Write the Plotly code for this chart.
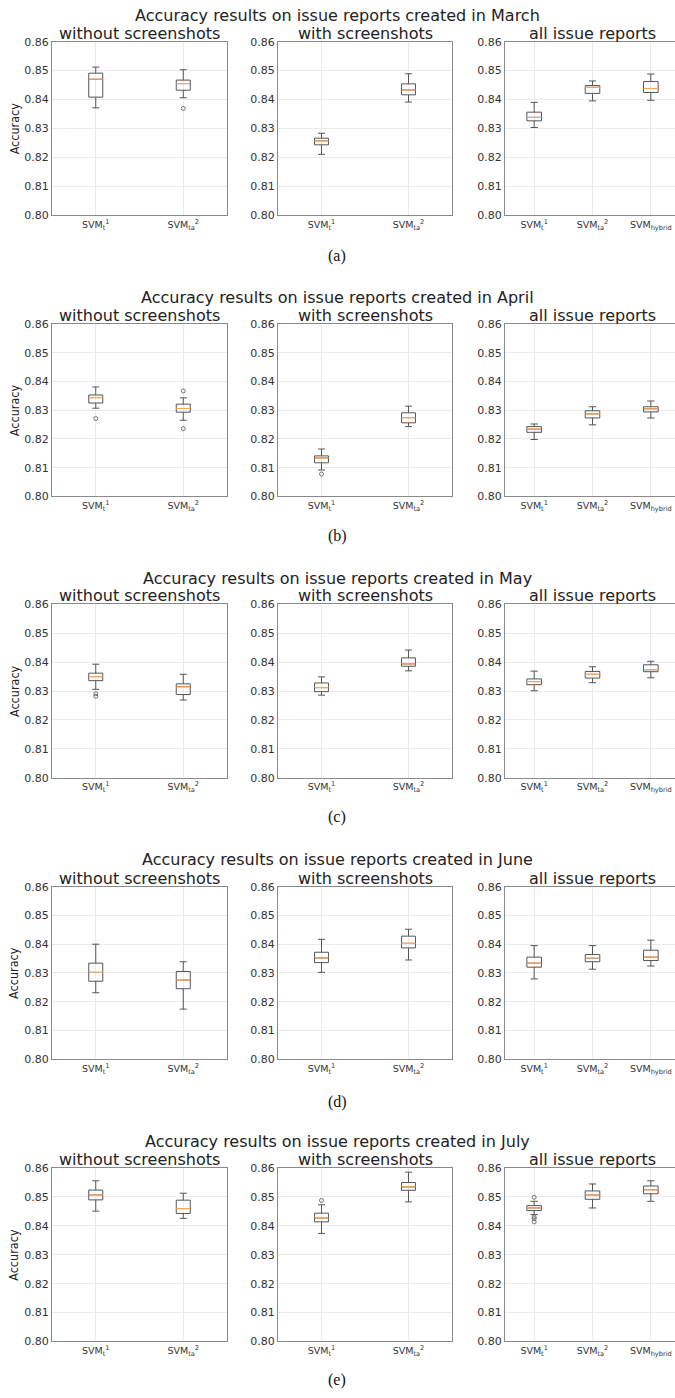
import plotly.graph_objects as go

# ---------------- data (lower whisker, q1, median, q3, upper whisker) ----------------
months = ["March", "April", "May", "June", "July"]
captions = ["(a)", "(b)", "(c)", "(d)", "(e)"]
panel_titles = ["without screenshots", "with screenshots", "all issue reports"]
labels_two = ["SVM<sub>t</sub><sup>1</sup>", "SVM<sub>ta</sub><sup>2</sup>"]
labels_three = ["SVM<sub>t</sub><sup>1</sup>", "SVM<sub>ta</sub><sup>2</sup>", "SVM<sub>hybrid</sub>"]
y_ticks = [0.80, 0.81, 0.82, 0.83, 0.84, 0.85, 0.86]

march_without = [(0.8371, 0.8408, 0.8470, 0.8491, 0.8512), (0.8406, 0.8432, 0.8455, 0.8467, 0.8503)]
march_with = [(0.8210, 0.8243, 0.8257, 0.8266, 0.8283), (0.8391, 0.8416, 0.8433, 0.8454, 0.8489)]
march_all = [(0.8303, 0.8326, 0.8338, 0.8356, 0.8390), (0.8395, 0.8421, 0.8442, 0.8448, 0.8464),
             (0.8397, 0.8424, 0.8438, 0.8462, 0.8488)]
march_out = [[[], [0.8369]], [[], []], [[], [], []]]

april_without = [(0.8307, 0.8325, 0.8344, 0.8353, 0.8381), (0.8265, 0.8293, 0.8306, 0.8321, 0.8343)]
april_with = [(0.8092, 0.8117, 0.8134, 0.8141, 0.8165), (0.8243, 0.8256, 0.8274, 0.8291, 0.8314)]
april_all = [(0.8198, 0.8223, 0.8234, 0.8243, 0.8252), (0.8249, 0.8273, 0.8287, 0.8298, 0.8312),
             (0.8273, 0.8294, 0.8305, 0.8312, 0.8332)]
april_out = [[[0.8271], [0.8367, 0.8236]], [[0.8078], []], [[], [], []]]

may_without = [(0.8306, 0.8336, 0.8350, 0.8362, 0.8393), (0.8269, 0.8288, 0.8315, 0.8325, 0.8358)]
may_with = [(0.8286, 0.8298, 0.8312, 0.8328, 0.8349), (0.8370, 0.8386, 0.8394, 0.8415, 0.8442)]
may_all = [(0.8301, 0.8322, 0.8333, 0.8342, 0.8369), (0.8329, 0.8345, 0.8358, 0.8368, 0.8384),
           (0.8346, 0.8367, 0.8374, 0.8391, 0.8403)]
may_out = [[[0.8291, 0.8282], []], [[], []], [[], [], []]]

june_without = [(0.8231, 0.8271, 0.8302, 0.8334, 0.8400), (0.8174, 0.8245, 0.8275, 0.8305, 0.8339)]
june_with = [(0.8302, 0.8336, 0.8352, 0.8372, 0.8417), (0.8345, 0.8387, 0.8403, 0.8428, 0.8452)]
june_all = [(0.8279, 0.8320, 0.8334, 0.8355, 0.8395), (0.8313, 0.8339, 0.8351, 0.8364, 0.8395),
            (0.8324, 0.8343, 0.8355, 0.8379, 0.8414)]
june_out = [[[], []], [[], []], [[], [], []]]

july_without = [(0.8451, 0.8490, 0.8507, 0.8524, 0.8556), (0.8426, 0.8443, 0.8460, 0.8489, 0.8513)]
july_with = [(0.8374, 0.8414, 0.8427, 0.8444, 0.8473), (0.8483, 0.8523, 0.8535, 0.8550, 0.8586)]
july_all = [(0.8439, 0.8453, 0.8462, 0.8470, 0.8485), (0.8462, 0.8492, 0.8507, 0.8521, 0.8545),
            (0.8485, 0.8511, 0.8525, 0.8538, 0.8556)]
july_out = [[[], []], [[0.8488], []], [[0.8499, 0.8431, 0.8425, 0.8414], [], []]]

rows_data = [
    (march_without, march_with, march_all, march_out),
    (april_without, april_with, april_all, april_out),
    (may_without, may_with, may_all, may_out),
    (june_without, june_with, june_all, june_out),
    (july_without, july_with, july_all, july_out),
]

# ---------------- layout geometry (pixels) ----------------
W, H = 675, 1398
col_px = [(52, 227), (278, 452), (505, 680)]
row_px = [(36, 211), (321, 495), (604, 779), (889, 1063), (1173, 1348)]
title_y = [10, 294, 578, 862, 1146]
caption_y = [252, 535, 819, 1106, 1387]
box_w = [0.16, 0.16, 0.25]

BOX_COL = "#555555"
MED_COL = "#ffa657"
SPINE = "#8a8a8a"
GRID = "#ebebeb"
FONT = "DejaVu Sans, Verdana, sans-serif"

fig = go.Figure()
layout = dict(width=W, height=H, autosize=False, margin=dict(l=0, r=0, t=0, b=0),
              paper_bgcolor="white", plot_bgcolor="white", showlegend=False)
annotations = []


def fx(px):
    return px / W


def fy(py):
    return 1 - py / H


for r, data in enumerate(rows_data):
    panels = data[:3]
    outs = data[3]
    y0, y1 = row_px[r]
    for c in range(3):
        k = r * 3 + c + 1
        sx = "" if k == 1 else str(k)
        stats = panels[c]
        n = len(stats)
        pos = list(range(1, n + 1))
        w = box_w[c]
        x0p, x1p = col_px[c]
        xr0 = 0.5
        xr1 = 0.5 + n * (min(x1p, W) - x0p) / (x1p - x0p)
        fig.add_trace(go.Box(
            x=pos,
            lowerfence=[s[0] for s in stats],
            q1=[s[1] for s in stats],
            median=[s[2] for s in stats],
            q3=[s[3] for s in stats],
            upperfence=[s[4] for s in stats],
            width=w, whiskerwidth=0.5,
            line=dict(color=BOX_COL, width=1),
            fillcolor="rgba(255,255,255,0)",
            boxpoints=False, hoverinfo="skip",
            xaxis="x" + sx, yaxis="y" + sx))
        mx, my = [], []
        for p, s in zip(pos, stats):
            mx += [p - w / 2, p + w / 2, None]
            my += [s[2], s[2], None]
        fig.add_trace(go.Scatter(x=mx, y=my, mode="lines",
                                 line=dict(color=MED_COL, width=1.2),
                                 hoverinfo="skip", xaxis="x" + sx, yaxis="y" + sx))
        ox, oy = [], []
        for p, o in zip(pos, outs[c]):
            ox += [p] * len(o)
            oy += list(o)
        if ox:
            fig.add_trace(go.Scatter(x=ox, y=oy, mode="markers",
                                     marker=dict(symbol="circle-open", size=4,
                                                 color=BOX_COL, line=dict(width=0.8)),
                                     hoverinfo="skip", xaxis="x" + sx, yaxis="y" + sx))
        layout["xaxis" + sx] = dict(
            domain=[fx(x0p), min(fx(x1p), 1.0)], anchor="y" + sx,
            range=[xr0, xr1], tickvals=pos,
            ticktext=labels_two if n == 2 else labels_three,
            tickfont=dict(family=FONT, size=9.5, color="#333"),
            showgrid=True, gridcolor=GRID, gridwidth=0.8,
            showline=True, linecolor=SPINE, linewidth=1.3, mirror=True,
            ticks="", zeroline=False, fixedrange=True)
        layout["yaxis" + sx] = dict(
            domain=[fy(y1), fy(y0)], anchor="x" + sx,
            range=[0.80, 0.86], tickvals=y_ticks, tickformat=".2f",
            tickfont=dict(family=FONT, size=11, color="#333"),
            showgrid=True, gridcolor=GRID, gridwidth=0.8,
            showline=True, linecolor=SPINE, linewidth=1.3, mirror=(c < 2),
            ticks="", zeroline=False, fixedrange=True)
        annotations.append(dict(
            text=panel_titles[c], xref="paper", yref="paper",
            x=fx((x0p + min(x1p, 679)) / 2), y=fy(y0 + 3), xanchor="center", yanchor="bottom",
            showarrow=False, font=dict(family=FONT, size=16, color="#222")))
    annotations.append(dict(
        text="Accuracy results on issue reports created in " + months[r],
        xref="paper", yref="paper", x=fx(337), y=fy(title_y[r]),
        xanchor="center", yanchor="middle", showarrow=False,
        font=dict(family=FONT, size=16, color="#222")))
    annotations.append(dict(
        text="Accuracy", xref="paper", yref="paper", x=fx(14), y=fy((y0 + y1) / 2),
        xanchor="center", yanchor="middle", textangle=-90, showarrow=False,
        font=dict(family="Liberation Sans Narrow, DejaVu Sans Condensed, sans-serif",
                  size=12.5, color="#222")))
    annotations.append(dict(
        text=captions[r], xref="paper", yref="paper", x=fx(337), y=fy(caption_y[r]),
        xanchor="center", yanchor="middle", showarrow=False,
        font=dict(family="Liberation Serif, DejaVu Serif, serif", size=16, color="#111")))

layout["annotations"] = annotations
fig.update_layout(**layout)
fig.write_html("out.html", config={"displayModeBar": False},
               post_script="document.body.style.margin='0';")
